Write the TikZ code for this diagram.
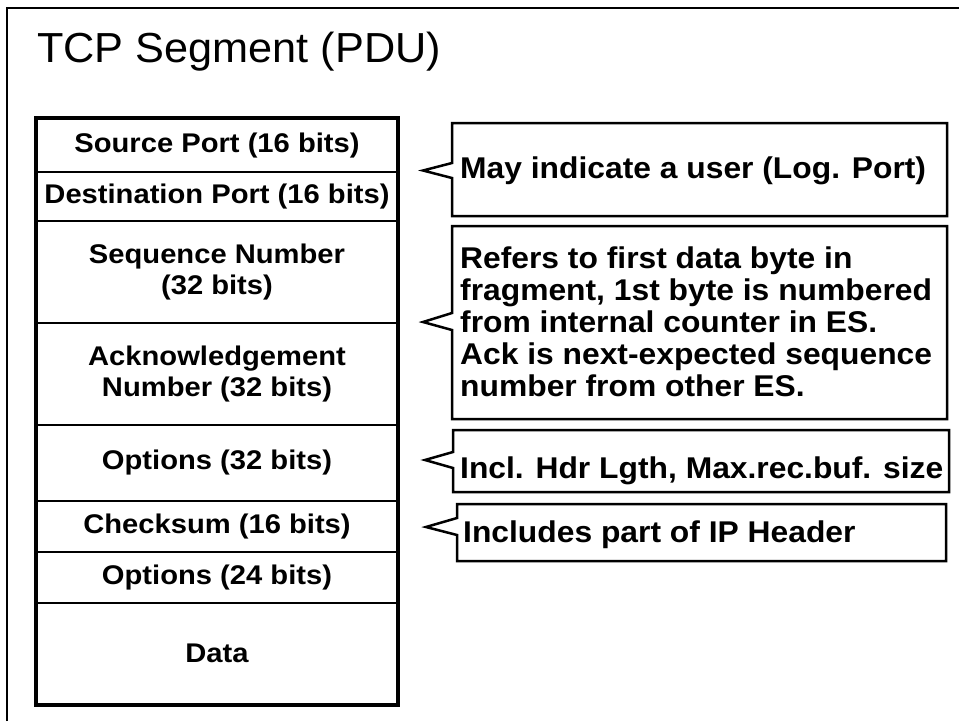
\documentclass[tikz,border=0pt]{standalone}
\usepackage{fontspec}
\setmainfont{Liberation Sans}
\newfontfamily\titlefont[FakeStretch=1.03]{Liberation Sans}
\newfontfamily\boxfont[FakeStretch=1.08]{Liberation Sans}
\newfontfamily\notefont[FakeStretch=1.06]{Liberation Sans}
\begin{document}
\begin{tikzpicture}[x=1pt,y=-1pt,
  frame/.style={line width=2pt},
  row/.style={draw, line width=2.5pt, minimum width=360pt, inner sep=0pt, align=center,
    font=\boxfont\bfseries\fontsize{27}{31}\selectfont},
  callout/.style={draw, line width=2.5pt, line join=miter},
  note/.style={inner sep=0pt, align=left, font=\notefont\bfseries\fontsize{30}{32}\selectfont}]
\useasboundingbox (0,0) rectangle (959,721);
\fill[white] (0,0) rectangle (959,721);
\draw[frame] (7,721) -- (7,8) -- (959,8);
\node[anchor=base west, inner sep=0pt, font=\titlefont\fontsize{42}{50}\selectfont] (title) at (37,62) {TCP Segment (PDU)};
% header rows
\node[row, minimum height=53pt]  (src)   at (217,145.5) {Source Port (16 bits)};
\node[row, minimum height=49pt]  (dst)   at (217,196.5) {Destination Port (16 bits)};
\node[row, minimum height=102pt] (seq)   at (217,272)   {Sequence Number\\(32 bits)};
\node[row, minimum height=102pt] (ack)   at (217,374)   {Acknowledgement\\Number (32 bits)};
\node[row, minimum height=76pt]  (opt32) at (217,463)   {Options (32 bits)};
\node[row, minimum height=51pt]  (chk)   at (217,526.5) {Checksum (16 bits)};
\node[row, minimum height=51pt]  (opt24) at (217,577.5) {Options (24 bits)};
\node[row, minimum height=101pt] (data)  at (217,653.5) {Data};
\draw[line width=3pt] (src.north west) rectangle (data.south east);
% callouts
\draw[callout] (452,163) -- (423,170.5) -- (452,178) -- (452,216) -- (947,216) -- (947,123) -- (452,123) -- cycle;
\node[note, anchor=base west] (n1) at (460,178) {May indicate a user (Log. Port)};
\draw[callout] (452,313) -- (423,322) -- (452,330) -- (452,419) -- (947,419) -- (947,226) -- (452,226) -- cycle;
\node[note, anchor=north west] (n2) at (460,247) {Refers to first data byte in\\fragment, 1st byte is numbered\\from internal counter in ES.\\Ack is next-expected sequence\\number from other ES.};
\draw[callout] (453,452) -- (425,460) -- (453,468) -- (453,492) -- (949,492) -- (949,430) -- (453,430) -- cycle;
\node[note, anchor=base west] (n3) at (460,478) {Incl. Hdr Lgth, Max.rec.buf. size};
\draw[callout] (457,518) -- (426,527) -- (457,535) -- (457,561) -- (946,561) -- (946,504) -- (457,504) -- cycle;
\node[note, anchor=base west] (n4) at (463,542) {Includes part of IP Header};
\end{tikzpicture}
\end{document}
